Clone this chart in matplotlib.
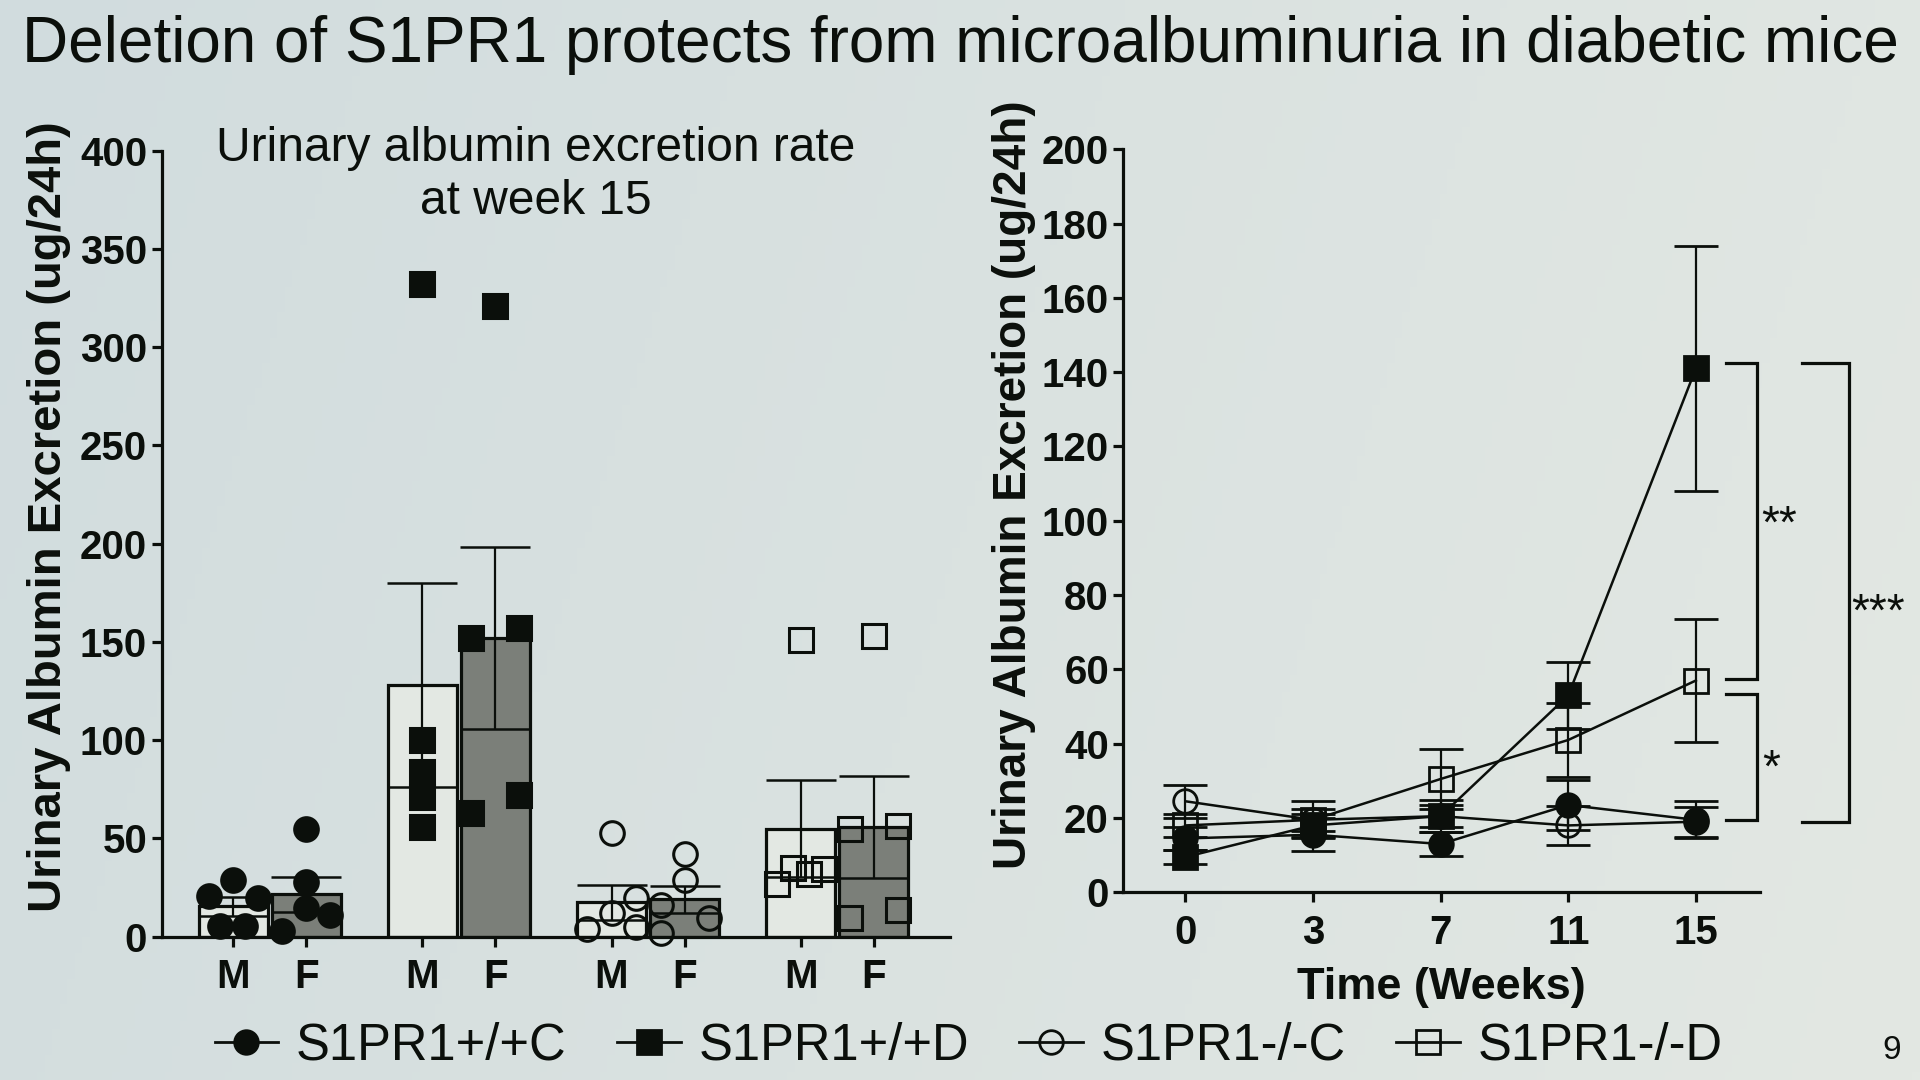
import numpy as np
import matplotlib
matplotlib.use("Agg")
import matplotlib.pyplot as plt
from matplotlib.lines import Line2D

plt.rcParams['font.family'] = ['Liberation Sans', 'DejaVu Sans']

# ---------------- data ----------------
title = "Deletion of S1PR1 protects from microalbuminuria in diabetic mice"
groups = ["S1PR1+/+C", "S1PR1+/+D", "S1PR1-/-C", "S1PR1-/-D"]
sex_labels = ["M", "F"]

# bar chart (week 15): means and SEM
mean_M = [15.5, 128, 17.5, 55]
sem_M = [4.8, 52, 9, 24.5]
mean_F = [21.5, 152, 19, 56]
sem_F = [9, 46.5, 7, 26]

# individual animals
pts_M = [
    [29, 20.8, 19.5, 5.5, 5.5],
    [332, 100, 84, 71, 56],
    [52.6, 19.5, 12, 4, 5],
    [151, 26.6, 35, 31.7, 34.4],
]
pts_F = [
    [54.8, 28, 14.7, 11, 3],
    [321, 152, 157, 72, 63],
    [42, 29, 16, 9.6, 2],
    [152.8, 54.8, 56.5, 9.6, 13.5],
]

# time course
weeks = ["0", "3", "7", "11", "15"]
wt_c = [14.5, 15.5, 13, 23.5, 19.5]
wt_c_sem = [3, 4.5, 3.3, 6.6, 5]
wt_d = [9.5, 18, 20.5, 53, 141]
wt_d_sem = [2, 3, 4.4, 9, 33]
ko_c = [24.5, 19.5, 20.5, 18, 19]
ko_c_sem = [4.5, 3, 3, 5.2, 4]
ko_d = [18, 19.5, 30.5, 41, 57]
ko_d_sem = [3, 5, 8, 10, 16.5]

sig_labels = ["**", "*", "***"]

# ---------------- layout / style ----------------
group_step = 2.59
bar_w = 0.945
off_M = [
    [0, -0.33, 0.34, -0.18, 0.16],
    [0, 0, 0, 0, 0],
    [0, 0.34, 0, -0.33, 0.34],
    [0, -0.33, -0.1, 0.12, 0.32],
]
off_F = [
    [0, 0, 0, 0.33, -0.33],
    [0, -0.33, 0.33, 0.33, -0.33],
    [0, 0, -0.32, 0.34, -0.32],
    [0, -0.33, 0.33, -0.33, 0.33],
]
light_fill = "#e3e8e3"
dark_fill = "#7b7f79"
ink = "#0b0f0b"
styles = [
    dict(marker="o", mfc=ink, mec=ink),
    dict(marker="s", mfc=ink, mec=ink),
    dict(marker="o", mfc="none", mec=ink),
    dict(marker="s", mfc="none", mec=ink),
]

fig = plt.figure(figsize=(19.2, 10.8), dpi=100)

# background gradient
bg = fig.add_axes([0, 0, 1, 1], zorder=-10)
gx = np.linspace(0, 1, 256)
gy = np.linspace(0, 1, 128)
GX, GY = np.meshgrid(gx, gy)
c_left = np.array([209, 220, 222]) / 255
c_right = np.array([227, 232, 227]) / 255
t = np.clip(GX * 0.85 + (1 - GY) * 0.15, 0, 1)[..., None]
img = c_left * (1 - t) + c_right * t
bg.imshow(img, aspect="auto", extent=[0, 1, 0, 1], origin="lower")
bg.axis("off")

fig.text(0.0115, 0.958, title, fontsize=46, ha="left", va="center", color=ink)

tick_fs = 29
# ---------------- left: bar chart ----------------
axL = fig.add_axes([0.0842, 0.1327, 0.4104, 0.7278])
axL.patch.set_alpha(0)
xs_M = np.arange(4) * group_step
xs_F = xs_M + 1
axL.bar(xs_M, mean_M, width=bar_w, color=light_fill, edgecolor=ink, linewidth=2.3, zorder=2)
axL.bar(xs_F, mean_F, width=bar_w, color=dark_fill, edgecolor=ink, linewidth=2.3, zorder=2)
axL.errorbar(xs_M, mean_M, yerr=sem_M, fmt="none", ecolor=ink, elinewidth=1.6,
             capsize=25, capthick=1.8, zorder=3)
axL.errorbar(xs_F, mean_F, yerr=sem_F, fmt="none", ecolor=ink, elinewidth=1.6,
             capsize=25, capthick=1.8, zorder=3)
for g in range(4):
    st = styles[g]
    for vals, offs, x0 in ((pts_M[g], off_M[g], xs_M[g]), (pts_F[g], off_F[g], xs_F[g])):
        axL.plot(x0 + np.array(offs), vals, linestyle="none", marker=st["marker"],
                 markersize=17, markerfacecolor=st["mfc"], markeredgecolor=st["mec"],
                 markeredgewidth=2.2, zorder=4, clip_on=False)
axL.set_xlim(-0.98, xs_F[-1] + 1.04)
axL.set_ylim(0, 400)
axL.set_yticks(np.arange(0, 401, 50))
ticks_x = np.sort(np.concatenate([xs_M, xs_F]))
axL.set_xticks(ticks_x)
axL.set_xticklabels(sex_labels * 4)
for s in ["top", "right"]:
    axL.spines[s].set_visible(False)
for s in ["left", "bottom"]:
    axL.spines[s].set_linewidth(2.3)
    axL.spines[s].set_color(ink)
axL.tick_params(axis="both", length=7, width=2.3, color=ink, labelsize=tick_fs)
axL.tick_params(axis="y", pad=3.5)
axL.tick_params(axis="x", pad=8.5)
for lab in axL.get_xticklabels() + axL.get_yticklabels():
    lab.set_fontweight("bold")
    lab.set_color(ink)
axL.set_ylabel("Urinary Albumin Excretion (ug/24h)", fontsize=34, fontweight="bold",
               color=ink)
axL.yaxis.set_label_coords(-0.1145, 0.534)
fig.text(0.279, 0.838, "Urinary albumin excretion rate\nat week 15", fontsize=34.5,
         ha="center", va="center", linespacing=1.24, color=ink)

# ---------------- right: time course ----------------
axR = fig.add_axes([0.5851, 0.1738, 0.3314, 0.688])
axR.patch.set_alpha(0)
xr = np.arange(len(weeks))
series = [(wt_c, wt_c_sem), (wt_d, wt_d_sem), (ko_c, ko_c_sem), (ko_d, ko_d_sem)]
order = [3, 2, 1, 0]
for i in order:
    vals, sem = series[i]
    st = styles[i]
    axR.errorbar(xr, vals, yerr=sem, color=ink, linewidth=1.8, elinewidth=1.6,
                 capsize=16, capthick=2.0, marker=st["marker"], markersize=17,
                 markerfacecolor=st["mfc"], markeredgecolor=st["mec"],
                 markeredgewidth=2.0, zorder=3 + i, clip_on=False)
axR.set_xlim(-0.486, 4.5)
axR.set_ylim(0, 200)
axR.set_yticks(np.arange(0, 201, 20))
axR.set_xticks(xr)
axR.set_xticklabels(weeks)
for s in ["top", "right"]:
    axR.spines[s].set_visible(False)
for s in ["left", "bottom"]:
    axR.spines[s].set_linewidth(2.3)
    axR.spines[s].set_color(ink)
axR.tick_params(axis="both", length=7, width=2.3, color=ink, labelsize=tick_fs)
axR.tick_params(axis="y", pad=3.5)
axR.tick_params(axis="x", pad=8.5)
for lab in axR.get_xticklabels() + axR.get_yticklabels():
    lab.set_fontweight("bold")
    lab.set_color(ink)
axR.set_ylabel("Urinary Albumin Excretion (ug/24h)", fontsize=33, fontweight="bold",
               color=ink)
axR.yaxis.set_label_coords(-0.137, 0.548)
axR.set_xlabel("Time (Weeks)", fontsize=32.5, fontweight="bold", color=ink, labelpad=11)

# significance brackets
def bracket(ax, x0, x1, y0, y1, label, xt, yt):
    ax.plot([x0, x1, x1, x0], [y1, y1, y0, y0], color=ink, linewidth=2.3,
            clip_on=False, solid_joinstyle="miter")
    ax.text(xt, yt, label, fontsize=33, ha="center", va="center",
            color=ink, clip_on=False)

bracket(axR, 4.235, 4.48, ko_d[-1] + 0.5, wt_d[-1] + 1.5, sig_labels[0], 4.65, 98.8)
bracket(axR, 4.235, 4.48, wt_c[-1], ko_d[-1] - 3.5, sig_labels[1], 4.59, 32.9)
bracket(axR, 4.835, 5.2, wt_c[-1] - 0.5, wt_d[-1] + 1.5, sig_labels[2], 5.43, 75)

# legend
handles = []
for i, name in enumerate(groups):
    st = styles[i]
    handles.append(Line2D([0], [0], color=ink, linewidth=2.0, marker=st["marker"],
                          markersize=17, markerfacecolor=st["mfc"],
                          markeredgecolor=st["mec"], markeredgewidth=2.0, label=name))
leg = fig.legend(handles=handles, loc="center", bbox_to_anchor=(0.5045, 0.0314), ncol=4,
                 frameon=False, fontsize=36.5, handlelength=1.25, handletextpad=0.35,
                 columnspacing=1.0, borderaxespad=0)
for txt in leg.get_texts():
    txt.set_color(ink)

fig.text(0.9855, 0.027, "9", fontsize=24, ha="center", va="center", color=ink)

fig.savefig("out.png", dpi=100)
